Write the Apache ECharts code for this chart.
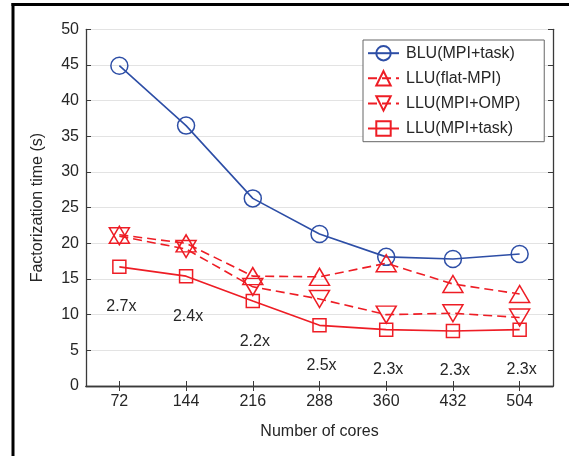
<!DOCTYPE html>
<html>
<head>
<meta charset="utf-8">
<script src="https://cdn.jsdelivr.net/npm/echarts@6/dist/echarts.min.js"></script>
<style>
  html, body { margin: 0; padding: 0; background: #fff; }
  #chart { width: 569px; height: 456px; }
</style>
</head>
<body>
<div id="chart"></div>
<script>
// Core counts on the x axis
const categories = ['72', '144', '216', '288', '360', '432', '504'];
// Factorization time in seconds for each solver variant
const bluTask = [44.9, 36.5, 26.3, 21.3, 18.1, 17.8, 18.5];
const lluFlatMpi = [21.2, 20.0, 15.4, 15.3, 17.2, 14.3, 12.9];
const lluMpiOmp = [21.0, 19.2, 13.9, 12.2, 10.0, 10.2, 9.6];
const lluMpiTask = [16.7, 15.4, 11.9, 8.5, 7.9, 7.7, 7.9];
// Speedup of LLU(MPI+task) over BLU(MPI+task), printed under each square
const speedups = ['2.7x', '2.4x', '2.2x', '2.5x', '2.3x', '2.3x', '2.3x'];
const seriesNames = ['BLU(MPI+task)', 'LLU(flat-MPI)', 'LLU(MPI+OMP)', 'LLU(MPI+task)'];

const BLUE = '#2d4ea6';
const RED = '#ee1d25';
const INK = '#262626';
const FONT = '"Liberation Sans", Arial, Helvetica, sans-serif';
const DOWN_TRI = 'path://M0,0 L20,0 L10,17 Z';

const chart = echarts.init(document.getElementById('chart'), null, { renderer: 'canvas' });

function marker(color) {
  return { color: 'rgba(0,0,0,0)', borderColor: color, borderWidth: 1.5 };
}

const axisLine = { show: true, lineStyle: { color: '#3a3a3a', width: 1.3 } };
const tick = { show: true, inside: true, length: 5, lineStyle: { color: '#3a3a3a', width: 1 } };

chart.setOption({
  animation: false,
  backgroundColor: '#fff',
  textStyle: { fontFamily: FONT },
  grid: { left: 86, right: 16, top: 29.3, bottom: 70, containLabel: false },
  legend: {
    orient: 'vertical',
    left: 363,
    top: 40,
    padding: [5, 24, 5, 4],
    itemWidth: 31,
    itemHeight: 18,
    itemGap: 8.7,
    backgroundColor: '#fff',
    borderColor: '#666',
    borderWidth: 1,
    borderRadius: 0,
    textStyle: { fontFamily: FONT, fontSize: 16, color: INK, padding: [0, 0, 0, 2] },
    data: seriesNames
  },
  xAxis: [
    {
      type: 'category',
      data: categories,
      boundaryGap: true,
      name: 'Number of cores',
      nameLocation: 'middle',
      nameGap: 38,
      nameTextStyle: { fontFamily: FONT, fontSize: 16, color: INK },
      axisLine: axisLine,
      axisTick: Object.assign({ alignWithLabel: true }, tick),
      axisLabel: { margin: 8, fontFamily: FONT, fontSize: 16, color: INK },
      splitLine: { show: false }
    },
    {
      type: 'category',
      data: categories,
      position: 'top',
      boundaryGap: true,
      axisLine: axisLine,
      axisTick: Object.assign({ alignWithLabel: true }, tick),
      axisLabel: { show: false },
      splitLine: { show: false }
    }
  ],
  yAxis: [
    {
      type: 'value',
      min: 0,
      max: 50,
      interval: 5,
      name: 'Factorization time (s)',
      nameLocation: 'middle',
      nameGap: 40,
      nameTextStyle: { fontFamily: FONT, fontSize: 16, color: INK },
      axisLine: axisLine,
      axisTick: tick,
      axisLabel: { margin: 7, fontFamily: FONT, fontSize: 16, color: INK },
      splitLine: { show: true, lineStyle: { color: '#e3e3e3', width: 1.2 } }
    },
    {
      type: 'value',
      min: 0,
      max: 50,
      interval: 5,
      position: 'right',
      axisLine: axisLine,
      axisTick: tick,
      axisLabel: { show: false },
      splitLine: { show: false }
    }
  ],
  series: [
    {
      name: seriesNames[0],
      type: 'line',
      data: bluTask,
      symbol: 'circle',
      symbolSize: 17,
      showAllSymbol: true,
      lineStyle: { color: BLUE, width: 1.6 },
      itemStyle: marker(BLUE),
      z: 2
    },
    {
      name: seriesNames[1],
      type: 'line',
      data: lluFlatMpi,
      symbol: 'triangle',
      symbolSize: [20, 17],
      lineStyle: { color: RED, width: 1.6, type: [9, 5] },
      itemStyle: marker(RED),
      z: 3
    },
    {
      name: seriesNames[2],
      type: 'line',
      data: lluMpiOmp,
      symbol: DOWN_TRI,
      symbolSize: [20, 17],
      lineStyle: { color: RED, width: 1.6, type: [9, 5] },
      itemStyle: marker(RED),
      z: 4
    },
    {
      name: seriesNames[3],
      type: 'line',
      data: lluMpiTask,
      symbol: 'rect',
      symbolSize: 13,
      lineStyle: { color: RED, width: 1.6 },
      itemStyle: marker(RED),
      label: {
        show: true,
        position: 'inside',
        offset: [2, 40],
        fontFamily: FONT,
        fontSize: 16,
        color: INK,
        formatter: (p) => speedups[p.dataIndex]
      },
      z: 5
    }
  ],
  graphic: [
    { type: 'line', shape: { x1: 13, y1: 3, x2: 13, y2: 456 }, style: { stroke: '#000', lineWidth: 3 } },
    { type: 'line', shape: { x1: 11.5, y1: 4.5, x2: 569, y2: 4.5 }, style: { stroke: '#000', lineWidth: 3 } }
  ]
});
</script>
</body>
</html>
